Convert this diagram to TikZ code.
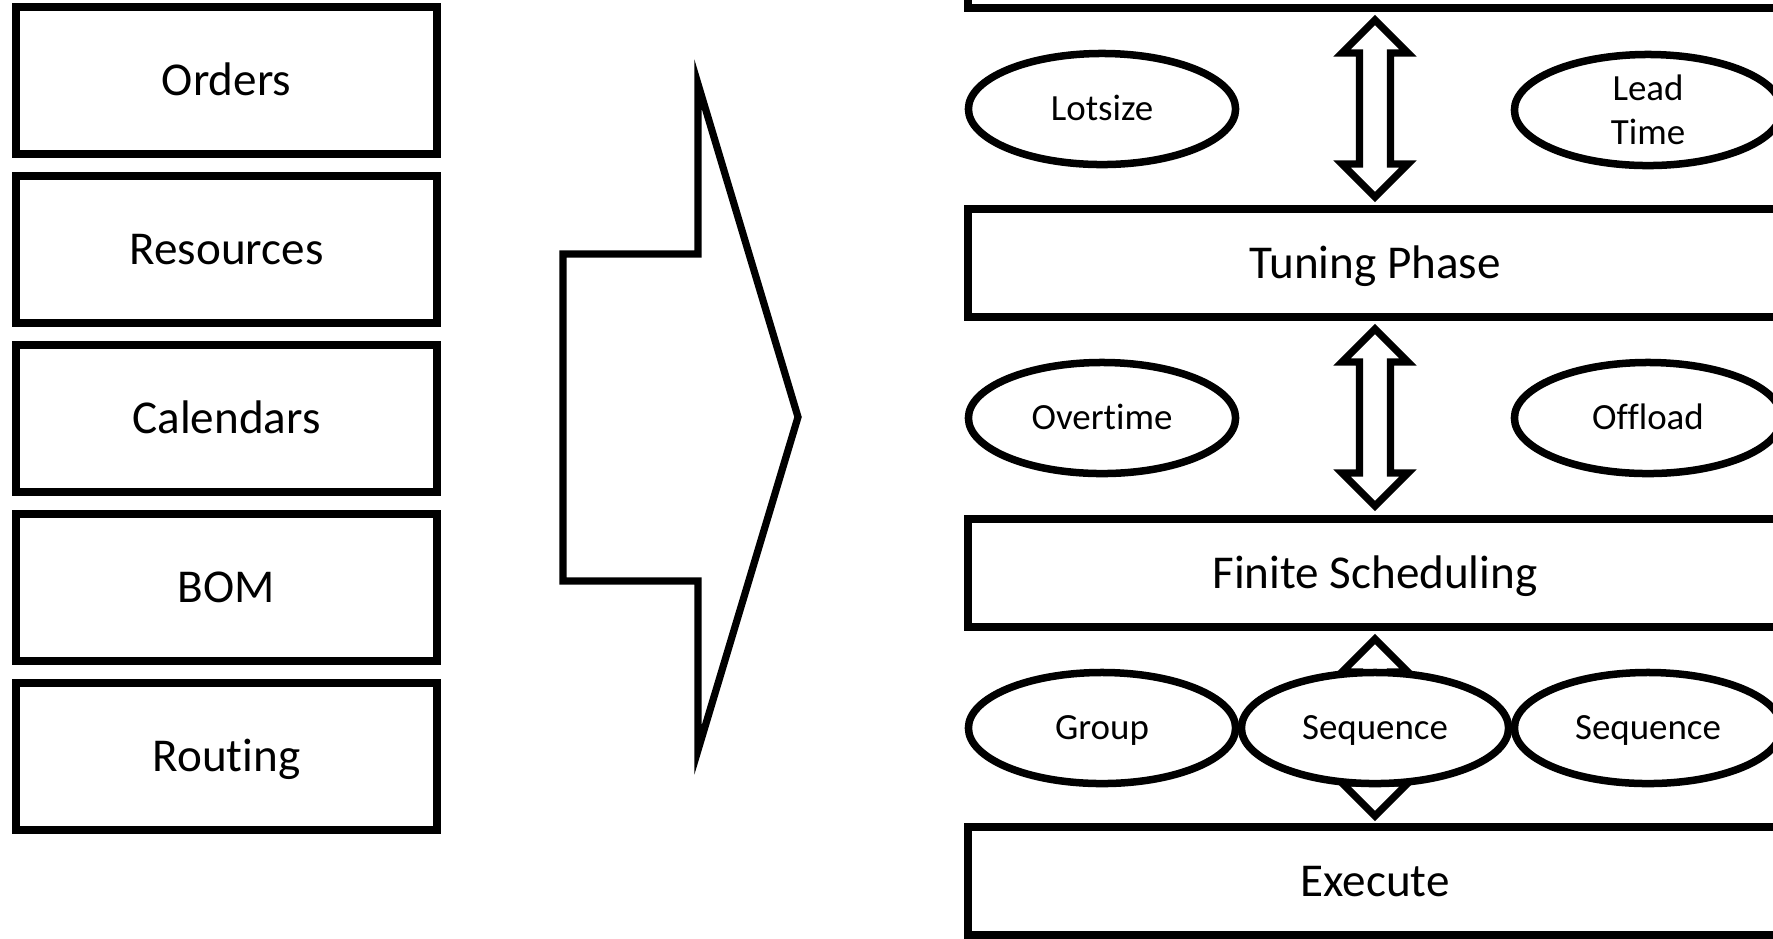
\documentclass[tikz,border=0pt]{standalone}
\usepackage{fontspec}
\setmainfont{Carlito}[Ligatures=NoCommon]
\usetikzlibrary{calc,shapes.geometric}
\begin{document}
\begin{tikzpicture}[x=0.01cm,y=-0.01cm,
  box/.style={draw,line width=0.08cm,inner sep=0,outer sep=0,text height=11.98pt,text depth=3.35pt,font=\fontsize{13.4}{16}\selectfont},
  inbox/.style={box,minimum width=4.21cm,minimum height=1.47cm},
  stepbox/.style={box,minimum width=8.14cm,minimum height=1.08cm},
  oval/.style={draw,ellipse,fill=white,line width=0.075cm,inner sep=0,outer sep=0,minimum width=2.67cm,minimum height=1.11cm,align=center,font=\fontsize{10.5}{12.5}\selectfont},
  word/.style={oval,text height=9.39pt,text depth=2.63pt},
  shape line/.style={draw,line width=0.072cm,line join=miter,fill=white}]
\useasboundingbox (0,0) rectangle (1773,938);
\clip (0,0) rectangle (1773,938);
% input data
\foreach \n/\t [count=\i from 0] in {orders/Orders,res/Resources,cal/Calendars,bom/BOM,rout/Routing}
  \node[inbox] (\n) at (226.5,80.5+169*\i) {\t};
\draw[shape line] (698,84) -- (698,254) -- (563,254) -- (563,581) -- (698,581) -- (698,750) -- (798,417) -- cycle;
% planning steps
\node[stepbox] (top) at (1375,-46) {};
\node[stepbox] (tune) at (1375,263) {Tuning Phase};
\node[stepbox] (fin) at (1375,573) {Finite Scheduling};
\node[stepbox] (exe) at (1375,881) {Execute};
\foreach \a in {top,tune,fin}
  \draw[shape line] ($(\a.south)+(0,12)$) -- ++(33,33) -- ++(-17.5,0) -- ++(0,111) -- ++(17.5,0) -- ++(-33,33)
    -- ++(-33,-33) -- ++(17.5,0) -- ++(0,-111) -- ++(-17.5,0) -- cycle;
\node[word] (lot) at (1102,109) {Lotsize};
\node[oval,yshift=-0.02cm] (lead) at (1648,108) {Lead\\Time};
\node[word] (over) at (1102,418) {Overtime};
\node[word] (off) at (1648,418) {Offload};
\node[word] (grp) at (1102,728) {Group};
\node[word] (seq) at (1375,728) {Sequence};
\node[word] (seqb) at (1648,728) {Sequence};
\end{tikzpicture}
\end{document}
